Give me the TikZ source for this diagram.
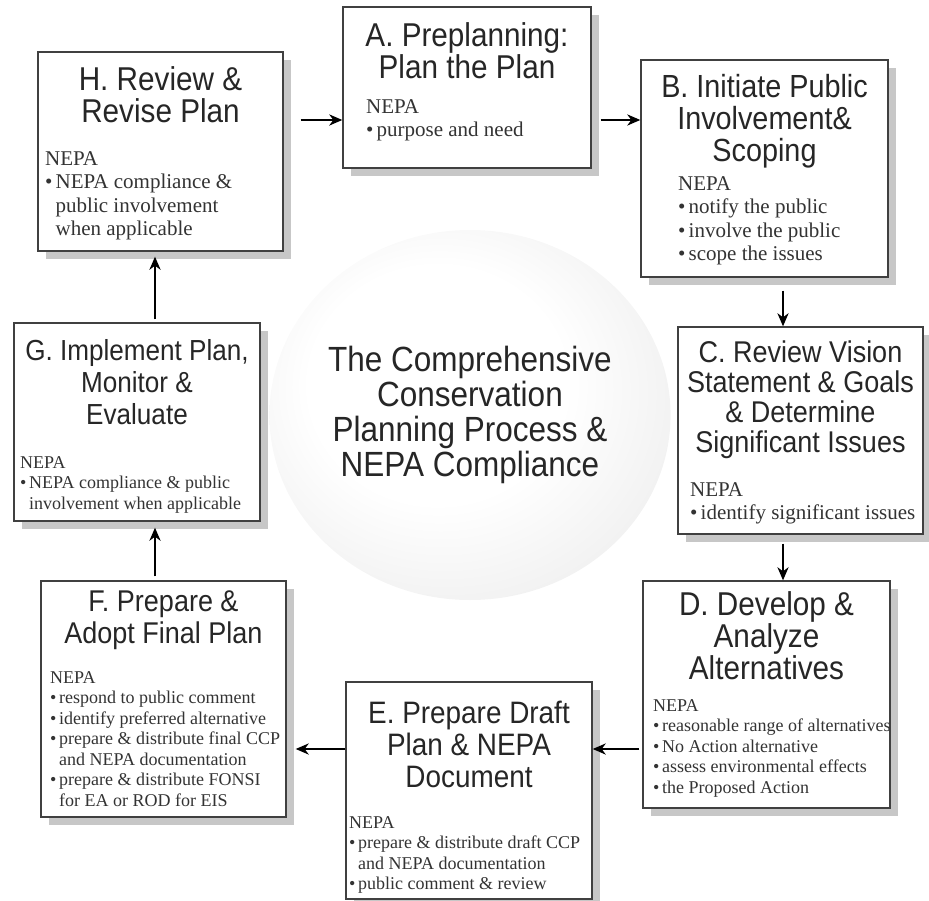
\documentclass[tikz,border=0pt]{standalone}
\usepackage{fontspec}
\setmainfont{Liberation Serif}
\newfontfamily\headfont[FakeStretch=0.9]{Liberation Sans}
\usetikzlibrary{arrows.meta,fit,shadows,shapes.geometric}

% bullet and hanging indent for the NEPA lists
\newcommand\bull{\makebox[0.5em][l]{\textbullet}}
\newcommand\indt{\hspace*{0.5em}}

\pgfdeclareradialshading{orb}{\pgfpoint{-6bp}{6bp}}{%
  color(0bp)=(white); color(16bp)=(white); color(38bp)=(black!9); color(50bp)=(black!12)}

\tikzset{
  stage/.style={draw=black!75, line width=1.3pt, fill=white, inner sep=0pt,
    drop shadow={shadow xshift=8pt, shadow yshift=-8pt, fill=black!22, opacity=1}},
  ttl/.style={anchor=north, align=center, inner sep=0pt, text=black!85,
    font=\headfont\fontsize{#1}{32}\selectfont},
  ttl/.default=31,
  txt/.style={anchor=north west, align=left, inner sep=0pt, text=black!80,
    font=\fontsize{21}{23.5}\selectfont},
  small/.style={font=\fontsize{18}{20.5}\selectfont},
  flow/.style={-{Stealth[length=13pt,width=11pt,inset=4pt]}, line width=2.6pt},
}

\begin{document}
\begin{tikzpicture}[x=1pt,y=-1pt]
  \useasboundingbox (0,0) rectangle (929,901);

  % centre disc
  \node[ellipse, shading=orb, minimum width=324pt, minimum height=370pt, inner sep=0pt,
    align=center, text=black!85, font=\headfont\fontsize{35}{35}\selectfont] (core) at (470,415)
    {The Comprehensive\\Conservation\\Planning Process \&\\NEPA Compliance};

  % stage boxes
  \node[stage, fit={(343,7) (591,168)}] (a) {};
  \node[stage, fit={(641,60) (888,277)}] (b) {};
  \node[stage, fit={(678,327) (923,534)}] (c) {};
  \node[stage, fit={(643,581) (890,808)}] (d) {};
  \node[stage, fit={(346,682) (592,899)}] (e) {};
  \node[stage, fit={(41,581) (286,817)}] (f) {};
  \node[stage, fit={(14,323) (260,521)}] (g) {};
  \node[stage, fit={(38,52) (283,251)}] (h) {};

  % headings
  \node[ttl=33] (a-ttl) at (467,22) {A. Preplanning:\\Plan the Plan};
  \node[ttl=32] (b-ttl) at (764.5,74) {B. Initiate Public\\Involvement\&\\Scoping};
  \node[ttl, font=\headfont\fontsize{30}{30}\selectfont] (c-ttl) at (800.5,341)
    {C. Review Vision\\Statement \& Goals\\\& Determine\\Significant Issues};
  \node[ttl=33] (d-ttl) at (766.5,591) {D. Develop \&\\Analyze\\Alternatives};
  \node[ttl=31] (e-ttl) at (469,701) {E. Prepare Draft\\Plan \& NEPA\\Document};
  \node[ttl=30] (f-ttl) at (163.5,591) {F. Prepare \&\\Adopt Final Plan};
  \node[ttl=29] (g-ttl) at (137,339) {G. Implement Plan,\\Monitor \&\\Evaluate};
  \node[ttl=33] (h-ttl) at (160.5,66) {H. Review \&\\Revise Plan};

  % NEPA notes
  \node[txt] (a-txt) at (366,99) {NEPA\\\bull purpose and need};
  \node[txt] (b-txt) at (678,176) {NEPA\\\bull notify the public\\\bull involve the public\\\bull scope the issues};
  \node[txt] (c-txt) at (690,482) {NEPA\\\bull identify significant issues};
  \node[txt, small] (d-txt) at (653,699) {NEPA\\\bull reasonable range of alternatives\\\bull No Action alternative\\
    \bull assess environmental effects\\\bull the Proposed Action};
  \node[txt, small] (e-txt) at (349,816) {NEPA\\\bull prepare \& distribute draft CCP\\\indt and NEPA documentation\\
    \bull public comment \& review};
  \node[txt, small] (f-txt) at (50,671) {NEPA\\\bull respond to public comment\\\bull identify preferred alternative\\
    \bull prepare \& distribute final CCP\\\indt and NEPA documentation\\\bull prepare \& distribute FONSI\\\indt for EA or ROD for EIS};
  \node[txt, small] (g-txt) at (20,456) {NEPA\\\bull NEPA compliance \& public\\\indt involvement when applicable};
  \node[txt] (h-txt) at (45,151) {NEPA\\\bull NEPA compliance \&\\\indt public involvement\\\indt when applicable};

  % the cycle
  \coordinate (toprow) at (0,120);
  \coordinate (rightcol) at (783,0);
  \coordinate (botrow) at (0,749);
  \coordinate (leftcol) at (155,0);
  \draw[flow] ([xshift=17pt]h.east |- toprow) -- (a.west |- toprow);
  \draw[flow] ([xshift=9pt]a.east |- toprow) -- (b.west |- toprow);
  \draw[flow] ([yshift=-13pt]b.south -| rightcol) -- (c.north -| rightcol);
  \draw[flow] ([yshift=-9pt]c.south -| rightcol) -- (d.north -| rightcol);
  \draw[flow] ([xshift=-3pt]d.west |- botrow) -- (e.east |- botrow);
  \draw[flow] (e.west |- botrow) -- ([xshift=9pt]f.east |- botrow);
  \draw[flow] ([yshift=4pt]f.north -| leftcol) -- ([yshift=-6pt]g.south -| leftcol);
  \draw[flow] ([yshift=3pt]g.north -| leftcol) -- ([yshift=-5pt]h.south -| leftcol);
\end{tikzpicture}
\end{document}
